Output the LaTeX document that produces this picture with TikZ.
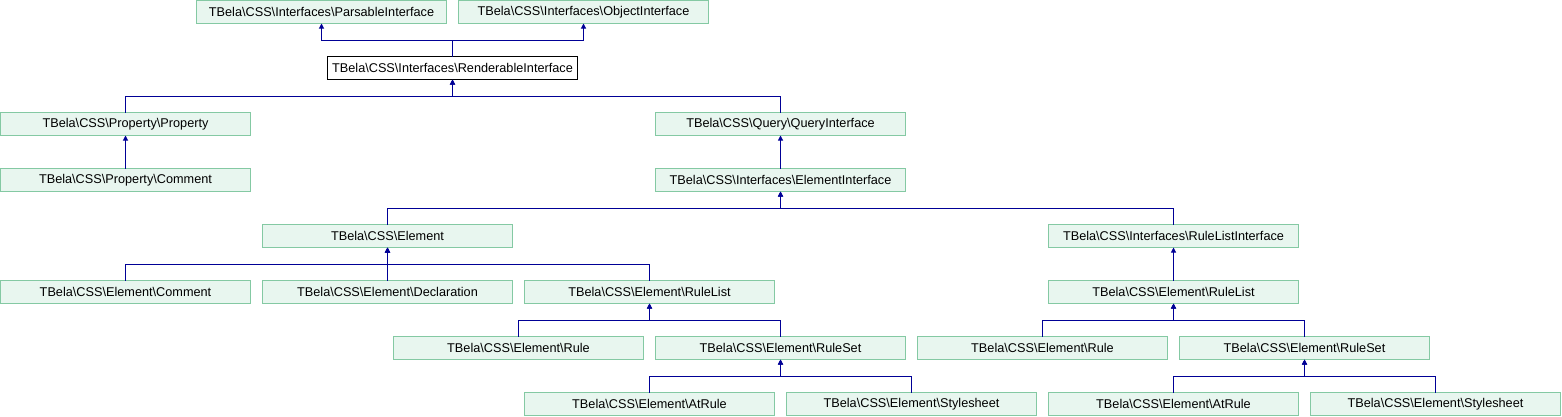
\documentclass[tikz,border=0pt]{standalone}
\usepackage{fontspec}
\setmainfont{Liberation Sans}
\usepackage{tikz}
\usetikzlibrary{arrows.meta,positioning}
\definecolor{linkblue}{RGB}{0,0,150}
\definecolor{mint}{RGB}{232,246,239}
\definecolor{mintline}{RGB}{132,201,163}
\newcommand{\bksl}{\textbackslash}
\tikzset{
  inherit/.style={-{Triangle[length=5pt,width=5pt]},line width=1pt,draw=linkblue},
  box/.style={draw=mintline,fill=mint,line width=1pt,inner sep=0pt,outer sep=0pt,
              minimum width=250pt,minimum height=23pt},
  mainbox/.style={box,draw=black,fill=white}
}

\begin{document}
\begin{tikzpicture}[x=1pt,y=1pt,node distance=33pt and 12pt,font=\fontsize{12.7}{14}\selectfont]
  \useasboundingbox (0,0) rectangle (1562,-416);
  % top: interfaces
  \node[box] (parsable) at (321.5,-12) {TBela\bksl CSS\bksl Interfaces\bksl ParsableInterface};
  \node[box,right=of parsable] (object) {TBela\bksl CSS\bksl Interfaces\bksl ObjectInterface};
  \node[mainbox] (render) at (452.5,-68) {TBela\bksl CSS\bksl Interfaces\bksl RenderableInterface};
  \node[box] (prop) at (125.5,-124) {TBela\bksl CSS\bksl Property\bksl Property};
  \node[box,below=of prop] (pcomment) {TBela\bksl CSS\bksl Property\bksl Comment};
  \node[box] (query) at (780.5,-124) {TBela\bksl CSS\bksl Query\bksl QueryInterface};
  \node[box,below=of query] (elemif) {TBela\bksl CSS\bksl Interfaces\bksl ElementInterface};
  % element branch
  \node[box] (element) at (387.5,-236) {TBela\bksl CSS\bksl Element};
  \node[box,below=of element] (decl) {TBela\bksl CSS\bksl Element\bksl Declaration};
  \node[box,left=of decl] (ecomment) {TBela\bksl CSS\bksl Element\bksl Comment};
  \node[box,right=of decl] (rulelist) {TBela\bksl CSS\bksl Element\bksl RuleList};
  \node[box] (rule) at (518.5,-348) {TBela\bksl CSS\bksl Element\bksl Rule};
  \node[box,right=of rule] (ruleset) {TBela\bksl CSS\bksl Element\bksl RuleSet};
  \node[box] (atrule) at (649.5,-404) {TBela\bksl CSS\bksl Element\bksl AtRule};
  \node[box,right=of atrule] (sheet) {TBela\bksl CSS\bksl Element\bksl Stylesheet};
  % rule list interface branch
  \node[box] (rlif) at (1173.5,-236) {TBela\bksl CSS\bksl Interfaces\bksl RuleListInterface};
  \node[box,below=of rlif] (rulelist2) {TBela\bksl CSS\bksl Element\bksl RuleList};
  \node[box] (rule2) at (1042.5,-348) {TBela\bksl CSS\bksl Element\bksl Rule};
  \node[box,right=of rule2] (ruleset2) {TBela\bksl CSS\bksl Element\bksl RuleSet};
  \node[box] (atrule2) at (1173.5,-404) {TBela\bksl CSS\bksl Element\bksl AtRule};
  \node[box,right=of atrule2] (sheet2) {TBela\bksl CSS\bksl Element\bksl Stylesheet};
  % inheritance
  \draw[inherit] (render.north) -- ++(0,16) -| (parsable.south);
  \draw[inherit] (render.north) -- ++(0,16) -| (object.south);
  \draw[inherit] (prop.north) -- ++(0,16) -| (render.south);
  \draw[inherit] (query.north) -- ++(0,16) -| (render.south);
  \draw[inherit] (pcomment) -- (prop);
  \draw[inherit] (elemif) -- (query);
  \draw[inherit] (element.north) -- ++(0,16) -| (elemif.south);
  \draw[inherit] (rlif.north) -- ++(0,16) -| (elemif.south);
  \draw[inherit] (ecomment.north) -- ++(0,16) -| (element.south);
  \draw[inherit] (decl) -- (element);
  \draw[inherit] (rulelist.north) -- ++(0,16) -| (element.south);
  \draw[inherit] (rulelist2) -- (rlif);
  \draw[inherit] (rule.north) -- ++(0,16) -| (rulelist.south);
  \draw[inherit] (ruleset.north) -- ++(0,16) -| (rulelist.south);
  \draw[inherit] (atrule.north) -- ++(0,16) -| (ruleset.south);
  \draw[inherit] (sheet.north) -- ++(0,16) -| (ruleset.south);
  \draw[inherit] (rule2.north) -- ++(0,16) -| (rulelist2.south);
  \draw[inherit] (ruleset2.north) -- ++(0,16) -| (rulelist2.south);
  \draw[inherit] (atrule2.north) -- ++(0,16) -| (ruleset2.south);
  \draw[inherit] (sheet2.north) -- ++(0,16) -| (ruleset2.south);
\end{tikzpicture}
\end{document}
